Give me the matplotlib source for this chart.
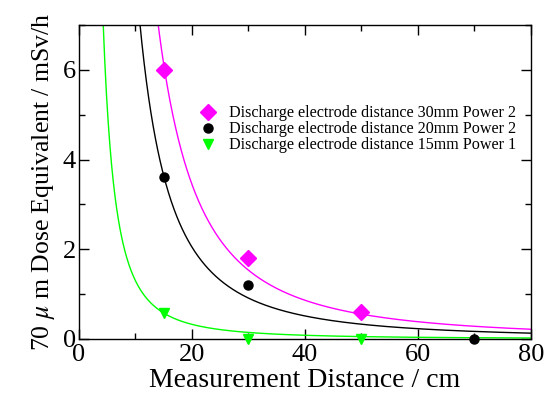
import numpy as np
import matplotlib.pyplot as plt
from matplotlib.ticker import MultipleLocator

plt.rcParams['font.family'] = ['Liberation Serif', 'DejaVu Serif']
plt.rcParams['mathtext.fontset'] = 'stix'

# measured dose points (distance in cm, dose in mSv/h)
dist_30mm = [15, 30, 50]
dose_30mm = [6.0, 1.81, 0.59]
dist_20mm = [15, 30, 70]
dose_20mm = [3.62, 1.21, 0.0]
dist_15mm = [15, 30, 50]
dose_15mm = [0.57, 0.0, 0.0]

# inverse-square fit coefficients  y = k / x^2
k_30mm = 1380.0
k_20mm = 820.0
k_15mm = 130.0

labels = ["Discharge electrode distance 30mm Power 2",
          "Discharge electrode distance 20mm Power 2",
          "Discharge electrode distance 15mm Power 1"]

fig = plt.figure(figsize=(5.44, 4.03), dpi=100)
ax = fig.add_axes([0.145, 0.159, 0.831, 0.779])

xx = np.linspace(0.5, 80, 800)
ax.plot(xx, k_30mm / xx**2, color='#ff00ff', lw=1.0)
ax.plot(xx, k_20mm / xx**2, color='black', lw=1.0)
ax.plot(xx, k_15mm / xx**2, color='#00ff00', lw=1.0)

ax.plot(dist_30mm, dose_30mm, 'D', color='#ff00ff', ms=8, ls='none',
        label=labels[0], clip_on=False, zorder=5)
ax.plot(dist_20mm, dose_20mm, 'o', color='black', ms=6.5, ls='none',
        label=labels[1], clip_on=False, zorder=5)
ax.plot(dist_15mm, dose_15mm, 'v', color='#00ff00', ms=7.5, ls='none',
        label=labels[2], clip_on=False, zorder=5)

ax.set_xlim(0, 80)
ax.set_ylim(0, 7)
ax.xaxis.set_major_locator(MultipleLocator(20))
ax.xaxis.set_minor_locator(MultipleLocator(10))
ax.yaxis.set_major_locator(MultipleLocator(2))
ax.yaxis.set_minor_locator(MultipleLocator(1))
ax.tick_params(which='both', direction='in', top=True, right=True,
               labelsize=19, width=1.0)
ax.tick_params(which='major', length=7)
ax.tick_params(which='minor', length=4)
ax.tick_params(axis='x', pad=4)
ax.tick_params(axis='y', pad=2)
for s in ax.spines.values():
    s.set_linewidth(1.0)

ax.set_xlabel("Measurement Distance / cm", fontsize=20, labelpad=1)
ax.set_ylabel(r"70 $\mu$ m Dose Equivalent / mSv/h", fontsize=18.5, labelpad=4)

ax.legend(loc='upper left', bbox_to_anchor=(0.24, 0.78), frameon=False,
          fontsize=11.6, handletextpad=0.7, labelspacing=0.0,
          handlelength=1.2, borderpad=0.2)

fig.savefig("out.png", dpi=100)
